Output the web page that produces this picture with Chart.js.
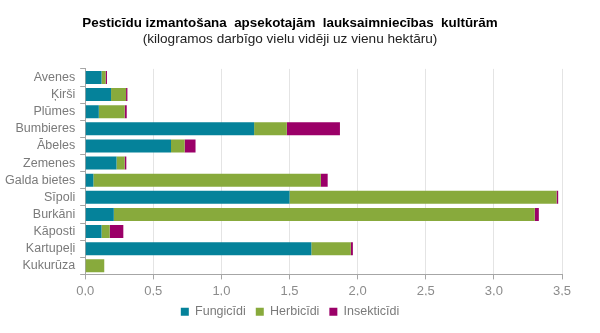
<!DOCTYPE html>
<html>
<head>
<meta charset="utf-8">
<script src="https://cdn.jsdelivr.net/npm/chart.js@4"></script>
<style>
  html, body { margin: 0; padding: 0; background: #fff; }
  #wrap { width: 600px; height: 333px; }
</style>
</head>
<body>
<div id="wrap"><canvas id="chart"></canvas></div>
<script>
const crops = ["Avenes", "Ķirši", "Plūmes", "Bumbieres", "Ābeles", "Zemenes", "Galda bietes", "Sīpoli", "Burkāni", "Kāposti", "Kartupeļi", "Kukurūza"];
const fungicidi = [0.12, 0.19, 0.10, 1.24, 0.63, 0.23, 0.06, 1.50, 0.21, 0.12, 1.66, 0];
const herbicidi = [0.03, 0.11, 0.19, 0.24, 0.10, 0.06, 1.67, 1.96, 3.09, 0.06, 0.29, 0.14];
const insekticidi = [0.01, 0.01, 0.015, 0.39, 0.08, 0.012, 0.05, 0.012, 0.03, 0.10, 0.015, 0];
const tickLabels = ["0,0", "0,5", "1,0", "1,5", "2,0", "2,5", "3,0", "3,5"];

const font = "'Liberation Sans', Arial, sans-serif";
Chart.defaults.font.family = font;

new Chart(document.getElementById("chart"), {
  type: "bar",
  data: {
    labels: crops,
    datasets: [
      { label: "Fungicīdi", data: fungicidi, backgroundColor: "#05829a" },
      { label: "Herbicīdi", data: herbicidi, backgroundColor: "#88aa3c" },
      { label: "Insekticīdi", data: insekticidi, backgroundColor: "#9b0068" }
    ]
  },
  options: {
    indexAxis: "y",
    responsive: true,
    maintainAspectRatio: false,
    animation: false,
    datasets: { bar: { barPercentage: 0.95, categoryPercentage: 0.8 } },
    layout: { padding: { left: 0, right: 20, top: 8, bottom: 5 } },
    scales: {
      x: {
        stacked: true,
        min: 0,
        max: 3.5,
        ticks: {
          stepSize: 0.5,
          color: "#8c8c8c",
          font: { size: 13 },
          padding: 4.5,
          callback: (v, i) => tickLabels[i]
        },
        grid: { color: "#e4e4e4", tickColor: "#a6a6a6", tickLength: 5 },
        border: { color: "#a6a6a6" },
        // legend sits close under the tick labels; plot ends short of the right edge
        afterFit: (scale) => {
          scale.height -= 8.5;
          scale.paddingRight = 38;
        }
      },
      y: {
        stacked: true,
        ticks: { color: "#7a7a7a", font: { size: 12.5 }, padding: 5, autoSkip: false },
        grid: { drawOnChartArea: false, tickColor: "#a6a6a6", tickLength: 5 },
        border: { color: "#a6a6a6" }
      }
    },
    plugins: {
      title: {
        display: true,
        text: "Pesticīdu izmantošana  apsekotajām  lauksaimniecības  kultūrām",
        color: "#000",
        font: { size: 13.4, weight: "bold" },
        padding: { top: 7.5, bottom: 0 }
      },
      subtitle: {
        display: true,
        text: "(kilogramos darbīgo vielu vidēji uz vienu hektāru)",
        color: "#222",
        font: { size: 13.6 },
        padding: { bottom: 21 }
      },
      legend: {
        position: "bottom",
        labels: {
          boxWidth: 8,
          boxHeight: 8,
          padding: 10,
          color: "#7a7a7a",
          font: { size: 12.5 }
        }
      },
      tooltip: { enabled: false }
    }
  }
});
</script>
</body>
</html>
